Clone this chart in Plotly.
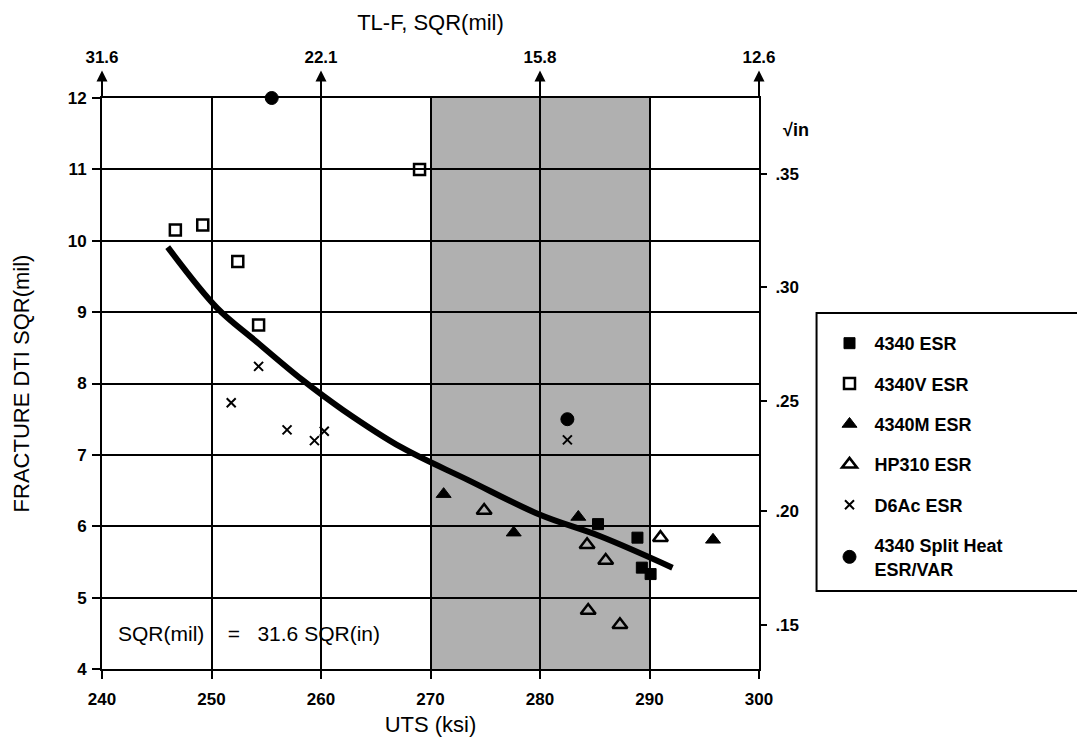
import plotly.graph_objects as go

# ---------------- data ----------------
esr4340_x = [285.3, 288.9, 289.3, 290.1]
esr4340_y = [6.03, 5.84, 5.42, 5.33]

v4340_x = [246.7, 249.2, 252.4, 254.3, 269.0]
v4340_y = [10.15, 10.22, 9.71, 8.82, 11.0]

m4340_x = [271.2, 277.6, 283.5, 295.8]
m4340_y = [6.45, 5.91, 6.13, 5.81]

hp310_x = [274.9, 284.3, 286.0, 291.0, 284.4, 287.3]
hp310_y = [6.22, 5.74, 5.52, 5.84, 4.82, 4.62]

d6ac_x = [254.3, 251.8, 256.9, 259.4, 260.3, 282.5]
d6ac_y = [8.24, 7.73, 7.35, 7.20, 7.33, 7.21]

split_x = [255.5, 282.5]
split_y = [12.0, 7.5]

curve_x = [246.0, 250.5, 254.0, 258.3, 262.0, 267.4, 273.4, 280.0, 285.5, 292.1]
curve_y = [9.91, 9.06, 8.60, 8.05, 7.63, 7.10, 6.65, 6.16, 5.86, 5.42]

band_uts = [270, 290]

top_tick_pos = [240, 260, 280, 300]
top_tick_text = ["31.6", "22.1", "15.8", "12.6"]

right_tick_pos = [4.61, 6.21, 7.76, 9.35, 10.94]
right_tick_text = [".15", ".20", ".25", ".30", ".35"]

FONT = "Liberation Sans, Arial, sans-serif"
TICKFONT = dict(family=FONT, size=17, color="black", weight="bold")
TITLEFONT = dict(family=FONT, size=22, color="black")

fig = go.Figure()

# fitted curve
fig.add_trace(go.Scatter(x=curve_x, y=curve_y, mode="lines",
                         line=dict(color="black", width=6, shape="spline"),
                         showlegend=False, hoverinfo="skip"))

series = [
    ("4340 ESR", esr4340_x, esr4340_y, "square", 11, 1),
    ("4340V ESR", v4340_x, v4340_y, "square-open", 11, 2.5),
    ("4340M ESR", m4340_x, m4340_y, "triangle-up", 13, 1),
    ("HP310 ESR", hp310_x, hp310_y, "triangle-up-open", 13, 2.5),
    ("D6Ac ESR", d6ac_x, d6ac_y, "x-thin", 9, 2),
    ("4340 Split Heat<br>ESR/VAR", split_x, split_y, "circle", 13, 1),
]
for i, (name, xs, ys, sym, sz, lw) in enumerate(series):
    fig.add_trace(go.Scatter(
        x=xs, y=ys, mode="markers", name=name, legendgroup=str(i),
        cliponaxis=False,
        marker=dict(symbol=sym, size=sz, color="black",
                    line=dict(color="black", width=lw))))

# invisible trace to activate secondary axes
fig.add_trace(go.Scatter(x=[240, 300], y=[4, 12], xaxis="x2", yaxis="y2",
                         mode="markers", marker=dict(opacity=0),
                         showlegend=False, hoverinfo="skip"))

# shaded band
fig.add_shape(type="rect", xref="x", yref="paper", x0=band_uts[0], x1=band_uts[1],
              y0=0, y1=1, fillcolor="#b0b0b0", line=dict(width=0), layer="below")

# legend frame: top, left and bottom sides only (it runs off the right edge)
fig.add_shape(type="path", xref="paper", yref="paper",
              path="M 1.7 0.6235 L 1.0876 0.6235 L 1.0876 0.1366 L 1.7 0.1366",
              line=dict(color="black", width=2), layer="below")

# arrows on the top axis
for xv in top_tick_pos:
    fig.add_annotation(x=xv, xref="x", y=1.048, yref="paper", ax=0, ay=28,
                       text="", showarrow=True, arrowhead=2, arrowsize=1.1,
                       arrowwidth=2, arrowcolor="black")

fig.add_annotation(x=0.022, xref="paper", y=4.5, yref="y",
                   text="SQR(mil)    =   31.6 SQR(in)", showarrow=False,
                   xanchor="left", yanchor="middle",
                   font=dict(family=FONT, size=21, color="black"))

fig.add_annotation(x=1.033, xref="paper", y=11.55, yref="y",
                   text="√in", showarrow=False, xanchor="left",
                   font=dict(family=FONT, size=18, color="black", weight="bold"))

axis_common = dict(showline=True, linecolor="black", linewidth=2,
                   tickcolor="black", tickwidth=2,
                   tickfont=TICKFONT, zeroline=False)

fig.update_layout(
    width=1077, height=743,
    margin=dict(l=89, r=326, t=90, b=82),
    paper_bgcolor="white", plot_bgcolor="white",
    font=dict(family=FONT, size=16, color="black"),
    xaxis=dict(range=[240, 300], dtick=10, tick0=240, showgrid=True,
               gridcolor="black", gridwidth=2, ticks="outside", ticklen=8,
               ticklabelstandoff=6,
               title=dict(text="UTS (ksi)", font=TITLEFONT, standoff=8),
               **axis_common),
    yaxis=dict(range=[4, 12], dtick=1, tick0=4, showgrid=True,
               gridcolor="black", gridwidth=2, ticks="outside", ticklen=8,
               ticklabelstandoff=2,
               title=dict(text="FRACTURE DTI SQR(mil)", font=TITLEFONT, standoff=32),
               **axis_common),
    xaxis2=dict(range=[240, 300], overlaying="x", side="top",
                tickvals=top_tick_pos, ticktext=top_tick_text,
                showgrid=False, ticks="", ticklabelstandoff=26,
                title=dict(text="TL-F, SQR(mil)", font=TITLEFONT, standoff=12),
                **axis_common),
    yaxis2=dict(range=[4, 12], overlaying="y", side="right",
                tickvals=right_tick_pos, ticktext=right_tick_text,
                showgrid=False, ticks="outside", ticklen=6,
                ticklabelstandoff=5, **axis_common),
    legend=dict(x=1.0997, y=0.6025, xanchor="left", yanchor="top",
                borderwidth=0, bgcolor="rgba(0,0,0,0)",
                font=dict(family=FONT, size=18, color="black", weight="bold"),
                traceorder="grouped", tracegroupgap=14, itemwidth=40),
)

fig.write_html("out.html")
